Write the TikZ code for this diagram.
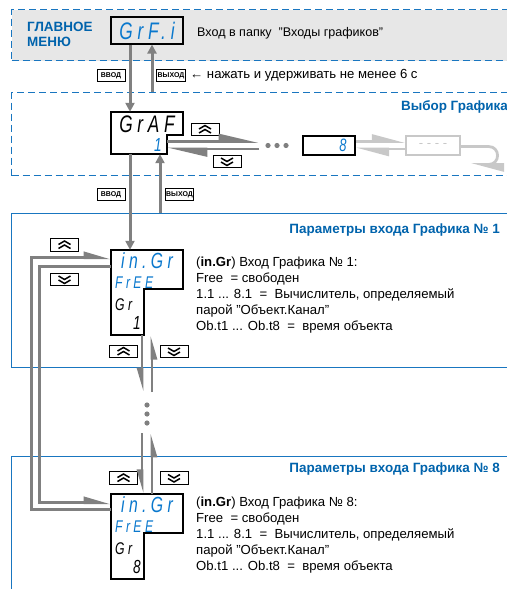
\documentclass[tikz,border=0pt]{standalone}
\usepackage{fontspec}
\setmainfont{Liberation Sans}
\newfontfamily\segfont{Liberation Sans}[FakeStretch=0.72,LetterSpace=20]
\usetikzlibrary{arrows.meta}
\definecolor{titleblue}{RGB}{0,99,172}
\definecolor{frameblue}{RGB}{25,118,192}
\definecolor{segblue}{RGB}{10,120,205}
\definecolor{menugray}{RGB}{231,231,231}
\definecolor{arrgray}{RGB}{128,128,128}
\definecolor{palegray}{RGB}{200,200,200}

\begin{document}
\begin{tikzpicture}[x=1bp, y=-1bp, inner sep=0pt,
	every node/.style={font=\fontsize{13.2}{16}\selectfont},
	sect/.style={draw=frameblue, line width=1.1pt, anchor=north west, minimum width=520bp, minimum height=#1},
	dsect/.style={sect=#1, dash pattern=on 7bp off 4bp},
	hdr/.style={anchor=east, text=titleblue, font=\fontsize{13.5}{16}\selectfont\bfseries},
	panel/.style={minimum width=72bp, minimum height=#1},
	outline/.style={draw=black, line width=1.1pt},
	segbig/.style={text=segblue, font=\segfont\itshape\fontsize{#1}{#1}\selectfont},
	segbig/.default=24,
	segsmall/.style={font=\segfont\itshape\fontsize{#1}{#1}\selectfont},
	btn/.style={draw=black, line width=0.9pt, fill=white, minimum width=28bp, minimum height=12.5bp},
	btnup/.style={btn, path picture={\draw[line width=1.5bp, shift={(path picture bounding box.center)}]
		(-6,-0.5) -- (0,-4) -- (6,-0.5) (-6,3.5) -- (0,0) -- (6,3.5);}},
	btndn/.style={btn, path picture={\draw[line width=1.5bp, shift={(path picture bounding box.center)}]
		(-6,0.5) -- (0,4) -- (6,0.5) (-6,-3.5) -- (0,0) -- (6,-3.5);}},
	tag/.style={draw=black, line width=0.9pt, minimum height=12.5bp, minimum width=28bp, font=\fontsize{7}{7}\selectfont\bfseries},
	arr/.style={draw=arrgray, line width=3bp, -{Triangle[length=9bp,width=9bp]}},
	harp/.style={draw=arrgray, line width=2.8bp, -{Triangle[left,length=34bp,width=15bp]}},
	lharp/.style={draw=palegray, line width=2.8bp, -{Triangle[left,length=28bp,width=14bp]}},
	vharp/.style={draw=arrgray, line width=2.8bp, -{Triangle[right,length=19bp,width=10bp]}},
	sideharp/.style={draw=arrgray, line width=2.8bp, -{Triangle[left,length=22bp,width=12bp]}}]
	\useasboundingbox (0,0) rectangle (507,589);

	\node[dsect=51bp, fill=menugray] (sec1) at (11,9) {};
	\node[dsect=83bp] (sec2) at (11,92) {};
	\node[sect=154bp] (sec3) at (11,213) {};
	\node[sect=150bp] (sec4) at (11,456) {};

	\coordinate (colA) at (130,0);
	\coordinate (colB) at (152,0);
	\coordinate (colC) at (160,0);
	\coordinate (colL) at (142,0);
	\coordinate (colR) at (152,0);

	% main menu
	\node[anchor=west, align=left, text=titleblue, font=\fontsize{13.5}{15}\selectfont\bfseries] (menu) at (27,34.5) {ГЛАВНОЕ\\МЕНЮ};
	\node[panel=27bp, outline, segbig] (disp0) at (147,30.5) {GrF.i};
	\node[anchor=west, font=\fontsize{12.6}{15}\selectfont] (menutxt) at (197,33) {Вход в папку~ "Входы графиков"};
	\node[tag] (in0) at (111,75.5) {ВВОД};
	\node[tag, minimum width=29bp] (out0) at (171,75.5) {ВЫХОД};
	\node[anchor=west] (hint) at (190,75) {← нажать и удерживать не менее 6 с};

	% graph choice
	\node[hdr] (title2) at (508,107) {Выбор Графика};
	\node[panel=42bp] (graf) at (147,133) {};
	\draw[outline] (111,112) -| (183,135) -| (167,154) -| (111,112) -- cycle;
	\node[segbig, text=black] (graf-a) at (147,124) {GrAF};
	\node[segsmall=19, text=segblue] (graf-b) at (158,145) {1};
	\coordinate (grafR) at (167,145.5);
	\coordinate (dotsL) at (259,145.5);
	\node[btnup] (up2) at (205,129.5) {};
	\node[btndn] (dn2) at (227,161.5) {};
	\draw[harp] ([yshift=4bp]grafR) -- ([yshift=4bp]dotsL);
	\draw[harp] ([yshift=-3.5bp]dotsL) -- ([yshift=-3.5bp]grafR);
	\foreach \x in {268,277,286}
		\fill[arrgray] (\x,145.5) circle (2.6bp);
	\node[outline, minimum width=52bp, minimum height=19bp] (box8) at (329,145.5) {};
	\node[segsmall=18, text=segblue] (box8-d) at (343,145.5) {8};
	\node[draw=palegray, line width=1.1pt, minimum width=54bp, minimum height=19bp, text=palegray] (boxN) at (433,145.5) {- - - -};
	\draw[lharp] ([yshift=4bp]box8.east) -- ([yshift=4bp]boxN.west);
	\draw[lharp] ([yshift=-3.5bp]boxN.west) -- ([yshift=-3.5bp]box8.east);
	\draw[lharp] ([yshift=-1bp]boxN.east) -- ++(28,0) .. controls +(12,0) and +(12,0) .. ++(0,18) -- ++(-18,0);

	\draw[arr] (disp0.south -| colA) -- (graf.north -| colA);
	\draw[arr] (sec2.north -| colB) -- (disp0.south -| colB);
	\node[tag] (in1) at (111,194.5) {ВВОД};
	\node[tag, minimum width=28bp] (out1) at (179.5,194.5) {ВЫХОД};

	% input 1
	\node[hdr] (title3) at (500,230) {Параметры входа Графика № 1};
	\node[panel=85bp] (disp1) at (147,292.5) {};
	\draw[outline] (111,250) -| (183,289) -| (144,335) -| (111,250) -- cycle;
	\node[segbig=22] (d1-a) at (147,261) {in.Gr};
	\node[segsmall=17, text=segblue, anchor=west] (d1-b) at (115,283) {FrEE};
	\node[segsmall=17, anchor=west] (d1-c) at (115,305) {Gr};
	\node[segsmall=19, anchor=east] (d1-d) at (141,323) {1};
	\node[anchor=north west, align=left] (info1) at (196,257) {(\textbf{in.Gr}) Вход Графика № 1:\\Free~ = свободен\\1.1 ... 8.1 ~=~ Вычислитель, определяемый\\парой "Объект.Канал"\\Ob.t1 ... Ob.t8 ~=~ время объекта};
	\node[btnup] (up3) at (64.5,245) {};
	\node[btndn] (dn3) at (64.5,279.5) {};
	\node[btnup] (up3b) at (123.5,351.5) {};
	\node[btndn] (dn3b) at (174,351.5) {};

	\draw[arr] (graf.south -| colA) -- (disp1.north -| colA);
	\draw[arr] (sec3.north -| colC) -- (graf.south -| colC);

	% input 8
	\node[hdr] (title4) at (500,469) {Параметры входа Графика № 8};
	\node[panel=85bp] (disp8) at (147,536.5) {};
	\draw[outline] (111,494) -| (183,533) -| (144,579) -| (111,494) -- cycle;
	\node[segbig=22] (d8-a) at (147,505) {in.Gr};
	\node[segsmall=17, text=segblue, anchor=west] (d8-b) at (115,527) {FrEE};
	\node[segsmall=17, anchor=west] (d8-c) at (115,549) {Gr};
	\node[segsmall=19, anchor=east] (d8-d) at (141,567) {8};
	\node[anchor=north west, align=left] (info8) at (196,497) {(\textbf{in.Gr}) Вход Графика № 8:\\Free~ = свободен\\1.1 ... 8.1 ~=~ Вычислитель, определяемый\\парой "Объект.Канал"\\Ob.t1 ... Ob.t8 ~=~ время объекта};
	\node[btnup] (up4) at (123.5,478) {};
	\node[btndn] (dn4) at (174,478) {};

	\coordinate (gapT) at (147,392);
	\coordinate (gapB) at (147,433);
	\draw[vharp] (disp1.south -| colL) -- (gapT -| colL);
	\draw[vharp] (gapT -| colR) -- (disp1.south -| colR);
	\foreach \y in {405,414,423}
		\fill[arrgray] (147,\y) circle (2.6bp);
	\draw[vharp] (gapB -| colL) -- (disp8.north -| colL);
	\draw[vharp] (disp8.north -| colR) -- (gapB -| colR);

	\draw[sideharp] ([yshift=-16bp]disp8.north west) -| ([xshift=-79bp,yshift=-8bp]disp1.north west) -- ([yshift=-8bp]disp1.north west);
	\draw[sideharp] ([yshift=-17bp]disp1.north west) -| ([xshift=-71bp,yshift=-9bp]disp8.north west) -- ([yshift=-9bp]disp8.north west);
\end{tikzpicture}
\end{document}
